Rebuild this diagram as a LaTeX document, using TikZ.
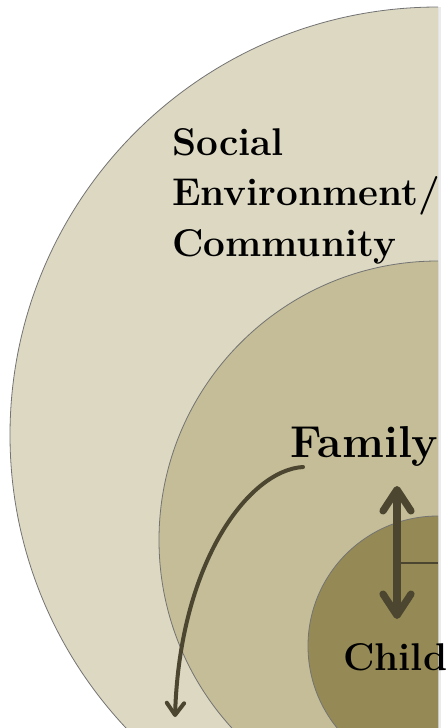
\documentclass[tikz,border=0pt]{standalone}
\usetikzlibrary{arrows.meta}

\definecolor{tanlight}{HTML}{DCD8C2}
\definecolor{tanmid}{HTML}{C4BD98}
\definecolor{tandark}{HTML}{958A55}
\definecolor{tanink}{HTML}{4C4530}

\tikzset{
  ring/.style={draw=black!55, line width=0.6pt},
  ringshadow/.style={fill=black, opacity=0.15},
  label/.style={inner sep=0pt, text=black, font=\bfseries},
  bigarrow/.style={tanink, line width=5.4pt, line cap=round,
    {Straight Barb[length=16pt,width=21pt,round]}-{Straight Barb[length=16pt,width=21pt,round]}},
  bendarrow/.style={tanink, line width=3pt, line cap=round,
    -{Straight Barb[length=9pt,width=13pt,round]}},
}

\begin{document}
\begin{tikzpicture}[x=0.75pt,y=0.75pt,yscale=-1,xscale=1]
\useasboundingbox (0,0) rectangle (446,728);

% circles, cut off at the right edge
\begin{scope}
\clip (0,0) rectangle (438,728);
\fill [ringshadow] (440,437) circle (428);
\fill [tanlight] (438,435) circle (428);
\draw [ring] (438,435) circle (428);
\fill [ringshadow] (440,542) circle (279);
\fill [tanmid] (438,540) circle (279);
\draw [ring] (438,540) circle (279);
\fill [ringshadow] (440,648) circle (130);
\fill [tandark] (438,646) circle (130);
\draw [ring] (438,646) circle (130);
\end{scope}
\fill [black, opacity=0.08] (438,7) rectangle (441,728);

% Text Node
\node [label, anchor=north west, align=left, font=\fontsize{29}{38}\selectfont\bfseries] (social) at (172,128) {Social\\Environment/\\Community};
% Text Node
\node [label, anchor=base west, font=\fontsize{33.5}{40}\selectfont\bfseries] (family) at (290,457) {Family};
% Text Node
\node [label, anchor=base west, font=\fontsize{29}{34}\selectfont\bfseries] (child) at (343,670) {Child};

% arrows
\coordinate (up) at (397,486);
\coordinate (down) at (397,619);
\coordinate (link) at (397,563);
\coordinate (linkend) at (438,563);
\draw [bigarrow] (up) -- (down);
\draw [tanink, line width=1.6pt] (link) -- (linkend);
\coordinate (bendstart) at (303,467);
\coordinate (bendend) at (175,717);
\draw [bendarrow] (bendstart) .. controls (250,470) and (180,560) .. (bendend);
\end{tikzpicture}
\end{document}
